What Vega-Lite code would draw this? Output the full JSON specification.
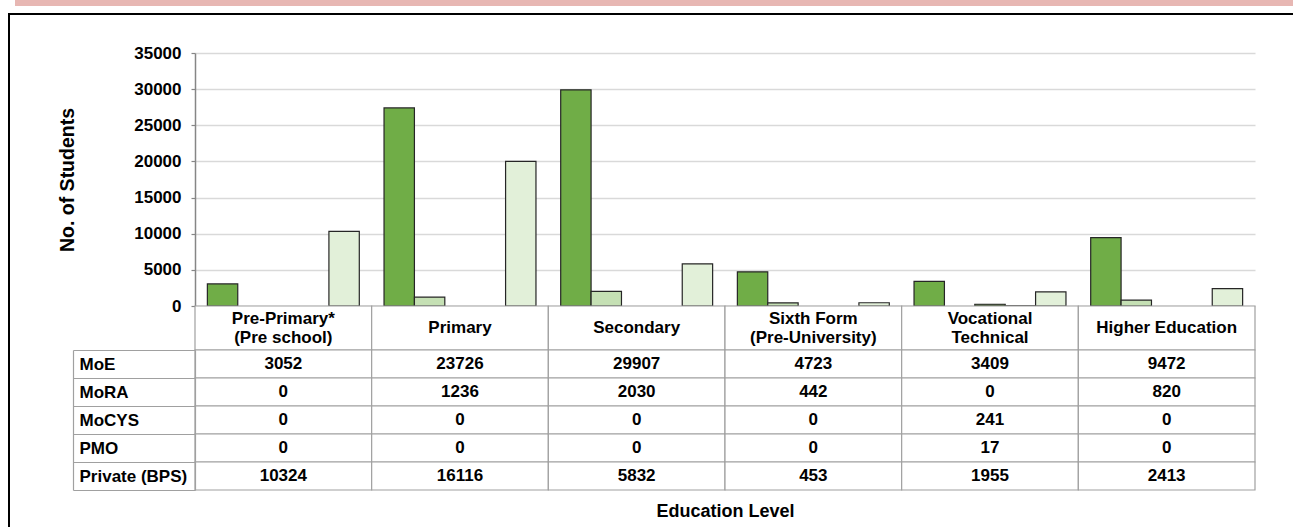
{
  "$schema": "https://vega.github.io/schema/vega-lite/v6.json",
  "background": "white",
  "padding": {"left": 8, "top": 0, "right": 0, "bottom": 0},
  "autosize": {"type": "pad"},
  "columns": 2,
  "spacing": 0,
  "bounds": "flush",
  "datasets": {
    "students": [
      {"level": "Pre-Primary*\n(Pre school)", "series": "MoE", "value": 3052, "bar": 3052},
      {"level": "Pre-Primary*\n(Pre school)", "series": "MoRA", "value": 0, "bar": 0},
      {"level": "Pre-Primary*\n(Pre school)", "series": "MoCYS", "value": 0, "bar": 0},
      {"level": "Pre-Primary*\n(Pre school)", "series": "PMO", "value": 0, "bar": 0},
      {"level": "Pre-Primary*\n(Pre school)", "series": "Private (BPS)", "value": 10324, "bar": 10324},
      {"level": "Primary", "series": "MoE", "value": 23726, "bar": 27400},
      {"level": "Primary", "series": "MoRA", "value": 1236, "bar": 1236},
      {"level": "Primary", "series": "MoCYS", "value": 0, "bar": 0},
      {"level": "Primary", "series": "PMO", "value": 0, "bar": 0},
      {"level": "Primary", "series": "Private (BPS)", "value": 16116, "bar": 20000},
      {"level": "Secondary", "series": "MoE", "value": 29907, "bar": 29907},
      {"level": "Secondary", "series": "MoRA", "value": 2030, "bar": 2030},
      {"level": "Secondary", "series": "MoCYS", "value": 0, "bar": 0},
      {"level": "Secondary", "series": "PMO", "value": 0, "bar": 0},
      {"level": "Secondary", "series": "Private (BPS)", "value": 5832, "bar": 5832},
      {"level": "Sixth Form\n(Pre-University)", "series": "MoE", "value": 4723, "bar": 4723},
      {"level": "Sixth Form\n(Pre-University)", "series": "MoRA", "value": 442, "bar": 442},
      {"level": "Sixth Form\n(Pre-University)", "series": "MoCYS", "value": 0, "bar": 0},
      {"level": "Sixth Form\n(Pre-University)", "series": "PMO", "value": 0, "bar": 0},
      {"level": "Sixth Form\n(Pre-University)", "series": "Private (BPS)", "value": 453, "bar": 453},
      {"level": "Vocational\nTechnical", "series": "MoE", "value": 3409, "bar": 3409},
      {"level": "Vocational\nTechnical", "series": "MoRA", "value": 0, "bar": 0},
      {"level": "Vocational\nTechnical", "series": "MoCYS", "value": 241, "bar": 241},
      {"level": "Vocational\nTechnical", "series": "PMO", "value": 17, "bar": 17},
      {"level": "Vocational\nTechnical", "series": "Private (BPS)", "value": 1955, "bar": 1955},
      {"level": "Higher Education", "series": "MoE", "value": 9472, "bar": 9472},
      {"level": "Higher Education", "series": "MoRA", "value": 820, "bar": 820},
      {"level": "Higher Education", "series": "MoCYS", "value": 0, "bar": 0},
      {"level": "Higher Education", "series": "PMO", "value": 0, "bar": 0},
      {"level": "Higher Education", "series": "Private (BPS)", "value": 2413, "bar": 2413}
    ],
    "levels": [
      {"level": "Pre-Primary*\n(Pre school)"},
      {"level": "Primary"},
      {"level": "Secondary"},
      {"level": "Sixth Form\n(Pre-University)"},
      {"level": "Vocational\nTechnical"},
      {"level": "Higher Education"}
    ],
    "none": []
  },
  "concat": [
    {"width": 187, "height": 6, "view": {"fill": {"gradient": "linear", "x1": 0, "x2": 1, "y1": 0, "y2": 0, "stops": [{"offset": 0, "color": "white"}, {"offset": 0.037, "color": "white"}, {"offset": 0.0371, "color": "#E7B7B3"}, {"offset": 1, "color": "#E7B7B3"}]}, "stroke": null}, "data": {"name": "none"}, "mark": "point"},
    {"width": 1098, "height": 6, "view": {"fill": "#E7B7B3", "stroke": null}, "data": {"name": "none"}, "mark": "point"},
    {"width": 1, "height": 7, "data": {"name": "none"}, "mark": "point"},
    {"width": 1, "height": 7, "data": {"name": "none"}, "mark": "point"},
    {"width": 187, "height": 2, "view": {"fill": "black", "stroke": null}, "data": {"name": "none"}, "mark": "point"},
    {"width": 1098, "height": 2, "view": {"fill": "black", "stroke": null}, "data": {"name": "none"}, "mark": "point"},
    {"width": 2, "height": 38, "view": {"fill": "black", "stroke": null}, "data": {"name": "none"}, "mark": "point"},
    {"width": 1, "height": 38, "data": {"name": "none"}, "mark": "point"},
    {"width": 2, "height": 253, "view": {"fill": "black", "stroke": null}, "data": {"name": "none"}, "mark": "point"},
    {
      "width": 1060,
      "height": 253,
      "data": {"name": "students"},
      "transform": [{"filter": "datum.bar > 0"}],
      "mark": {"type": "bar", "stroke": "#262626", "strokeWidth": 1.2},
      "encoding": {
        "x": {
          "field": "level", "type": "nominal",
          "sort": ["Pre-Primary*\n(Pre school)", "Primary", "Secondary", "Sixth Form\n(Pre-University)", "Vocational\nTechnical", "Higher Education"],
          "scale": {"domain": ["Pre-Primary*\n(Pre school)", "Primary", "Secondary", "Sixth Form\n(Pre-University)", "Vocational\nTechnical", "Higher Education"], "paddingInner": 0.14, "paddingOuter": 0.07},
          "axis": null
        },
        "xOffset": {
          "field": "series", "type": "nominal",
          "sort": ["MoE", "MoRA", "MoCYS", "PMO", "Private (BPS)"],
          "scale": {"domain": ["MoE", "MoRA", "MoCYS", "PMO", "Private (BPS)"], "paddingInner": 0, "paddingOuter": 0}
        },
        "y": {
          "field": "bar", "type": "quantitative",
          "scale": {"domain": [0, 35000], "nice": false},
          "axis": {
            "values": [0, 5000, 10000, 15000, 20000, 25000, 30000, 35000],
            "format": "d",
            "title": "No. of Students",
            "titleFontSize": 19.5, "titleFontWeight": "bold", "titleColor": "black", "titlePadding": 56,
            "labelFontSize": 17, "labelFontWeight": "bold", "labelColor": "black", "labelPadding": 10,
            "tickSize": 4, "tickColor": "#868686", "tickWidth": 1.2,
            "domainColor": "#868686", "domainWidth": 1.5,
            "grid": true, "gridColor": "#d9d9d9", "gridWidth": 1.5
          }
        },
        "color": {
          "field": "series", "type": "nominal",
          "scale": {"domain": ["MoE", "MoRA", "MoCYS", "PMO", "Private (BPS)"], "range": ["#70AD47", "#C5E0B4", "#548235", "#A9D18E", "#E2F0D9"]},
          "legend": null
        }
      }
    },
    {"width": 2, "height": 44, "view": {"fill": "black", "stroke": null}, "data": {"name": "none"}, "mark": "point"},
    {
      "width": 1060,
      "height": 44,
      "data": {"name": "levels"},
      "encoding": {
        "x": {
          "field": "level", "type": "nominal",
          "sort": ["Pre-Primary*\n(Pre school)", "Primary", "Secondary", "Sixth Form\n(Pre-University)", "Vocational\nTechnical", "Higher Education"],
          "scale": {"domain": ["Pre-Primary*\n(Pre school)", "Primary", "Secondary", "Sixth Form\n(Pre-University)", "Vocational\nTechnical", "Higher Education"], "paddingInner": 0, "paddingOuter": 0},
          "axis": null
        }
      },
      "layer": [
        {
          "mark": {"type": "rect", "fill": "white", "stroke": "#a0a0a0", "strokeWidth": 1.2},
          "encoding": {"y": {"value": 0}, "y2": {"value": "height"}}
        },
        {
          "transform": [{"filter": "indexof(datum.level, '\\n') < 0"}],
          "mark": {"type": "text", "fontSize": 17, "fontWeight": "bold", "color": "black", "baseline": "middle"},
          "encoding": {"text": {"field": "level"}}
        },
        {
          "transform": [{"filter": "indexof(datum.level, '\\n') >= 0"}],
          "mark": {"type": "text", "fontSize": 17, "fontWeight": "bold", "color": "black", "lineBreak": "\n", "lineHeight": 19, "baseline": "middle", "dy": -9.5},
          "encoding": {"text": {"field": "level"}}
        }
      ]
    },
    {"width": 2, "height": 177, "view": {"fill": "black", "stroke": null}, "data": {"name": "none"}, "mark": "point"},
    {
      "width": 1060,
      "height": 140,
      "data": {"name": "students"},
      "encoding": {
        "x": {
          "field": "level", "type": "nominal",
          "sort": ["Pre-Primary*\n(Pre school)", "Primary", "Secondary", "Sixth Form\n(Pre-University)", "Vocational\nTechnical", "Higher Education"],
          "scale": {"domain": ["Pre-Primary*\n(Pre school)", "Primary", "Secondary", "Sixth Form\n(Pre-University)", "Vocational\nTechnical", "Higher Education"], "paddingInner": 0, "paddingOuter": 0},
          "axis": {"title": "Education Level", "labels": false, "ticks": false, "domain": false, "titleFontSize": 18, "titleFontWeight": "bold", "titleColor": "black", "titlePadding": 12}
        }
      },
      "layer": [
        {
          "mark": {"type": "rect", "fill": "white", "stroke": "#a0a0a0", "strokeWidth": 1.2},
          "encoding": {
            "y": {
              "field": "series", "type": "nominal",
              "sort": ["MoE", "MoRA", "MoCYS", "PMO", "Private (BPS)"],
              "scale": {"domain": ["MoE", "MoRA", "MoCYS", "PMO", "Private (BPS)"], "paddingInner": 0, "paddingOuter": 0},
              "axis": {
                "orient": "left", "title": null,
                "labelAlign": "left", "labelBaseline": "middle", "labelPadding": -6,
                "labelFontSize": 17, "labelFontWeight": "bold", "labelColor": "black",
                "tickBand": "extent", "tickSize": 122, "tickColor": "#a0a0a0", "tickWidth": 1.2,
                "domainColor": "#a0a0a0", "domainWidth": 1.2
              }
            }
          }
        },
        {
          "mark": {"type": "text", "fontSize": 17, "fontWeight": "bold", "color": "black"},
          "encoding": {
            "y": {
              "field": "series", "type": "nominal",
              "sort": ["MoE", "MoRA", "MoCYS", "PMO", "Private (BPS)"],
              "scale": {"domain": ["MoE", "MoRA", "MoCYS", "PMO", "Private (BPS)"], "paddingInner": 0, "paddingOuter": 0},
              "axis": {"orient": "left", "offset": 122, "labels": false, "ticks": false, "title": null, "domainColor": "#a0a0a0", "domainWidth": 1.2}
            },
            "text": {"field": "value", "type": "quantitative", "format": "d"}
          }
        }
      ],
      "resolve": {"axis": {"y": "independent"}}
    }
  ],
  "config": {
    "view": {"stroke": null},
    "font": "Liberation Sans",
    "text": {"font": "Liberation Sans"}
  }
}
